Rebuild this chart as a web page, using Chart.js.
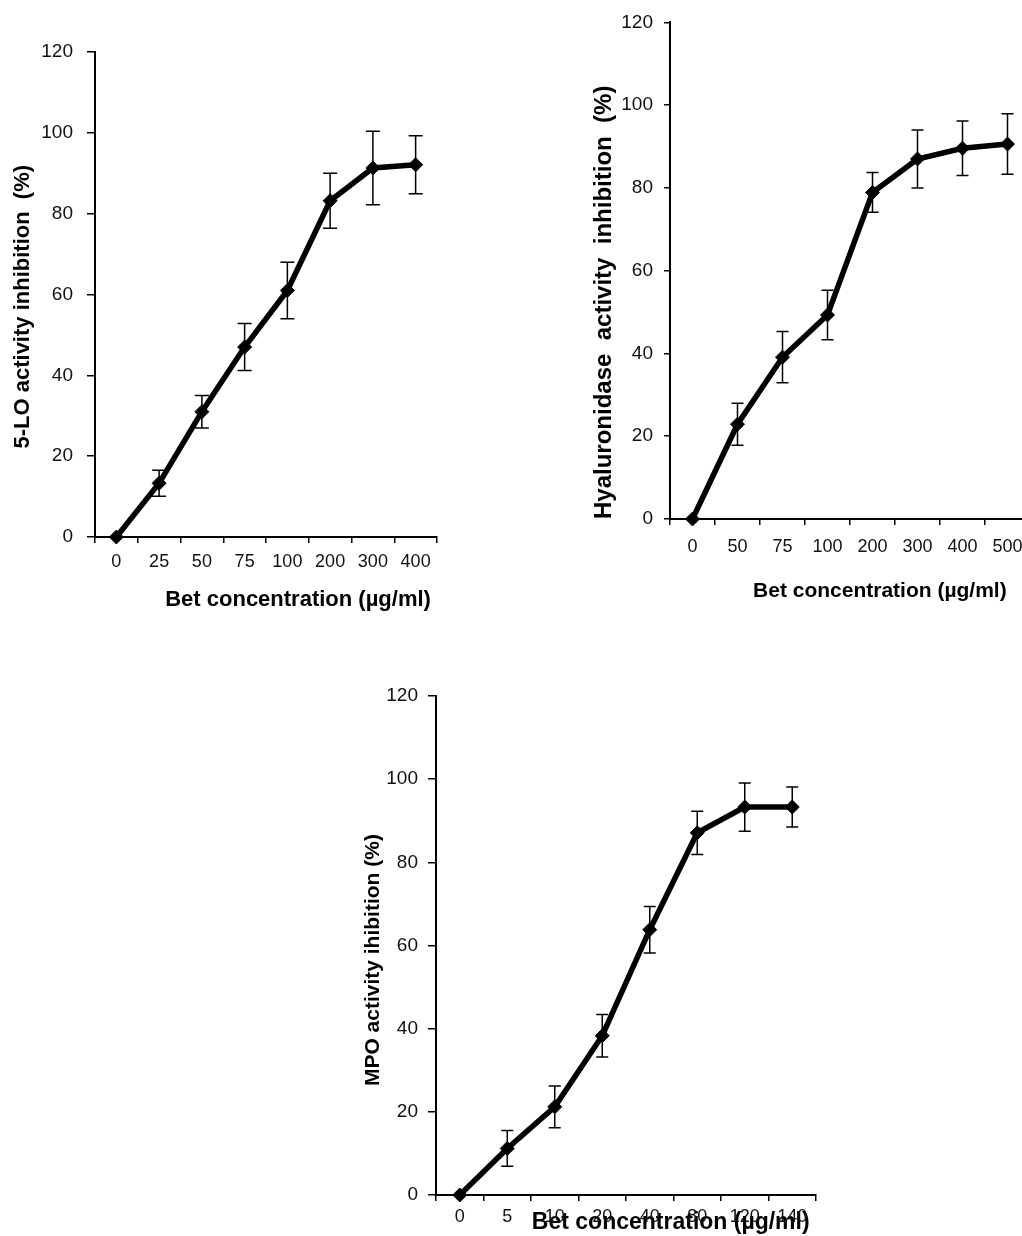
<!DOCTYPE html>
<html>
<head>
<meta charset="utf-8">
<script src="https://cdn.jsdelivr.net/npm/chart.js@4.4.1/dist/chart.umd.min.js"></script>
<style>
  html, body { margin: 0; padding: 0; background: #fff; overflow: hidden; width: 1022px; height: 1236px; }
  canvas { position: absolute; top: 0; left: 0; }
</style>
</head>
<body>
<canvas id="c1" width="1022" height="1236"></canvas>
<canvas id="c2" width="1040" height="1236"></canvas>
<canvas id="c3" width="1022" height="1236"></canvas>
<script>
// ---------- data ----------
const yTicks = [0, 20, 40, 60, 80, 100, 120];

const loLabels = ['0', '25', '50', '75', '100', '200', '300', '400'];
const loValues = [0, 13.3, 31, 47, 61, 83.2, 91.3, 92.1];
const loErrors = [0, 3.2, 4, 5.8, 7, 6.8, 9.1, 7.2];

const hyaLabels = ['0', '50', '75', '100', '200', '300', '400', '500'];
const hyaValues = [0, 22.9, 39.1, 49.3, 78.9, 87, 89.6, 90.6];
const hyaErrors = [0, 5.1, 6.2, 6, 4.8, 7, 6.6, 7.3];

const mpoLabels = ['0', '5', '10', '20', '40', '80', '120', '140'];
const mpoValues = [0, 11.2, 21.2, 38.3, 63.8, 87.1, 93.3, 93.3];
const mpoErrors = [0, 4.3, 5, 5.1, 5.6, 5.2, 5.8, 4.8];

// ---------- error bar plugin ----------
const errorBars = {
  id: 'errorBars',
  afterDatasetsDraw(chart, args, opts) {
    const ctx = chart.ctx;
    const yScale = chart.scales.y;
    const errs = opts.errors || [];
    const cap = opts.cap || 6;
    chart.data.datasets.forEach((ds, di) => {
      const meta = chart.getDatasetMeta(di);
      ctx.save();
      ctx.strokeStyle = '#000';
      ctx.lineWidth = 1.5;
      meta.data.forEach((pt, i) => {
        const e = errs[i];
        if (!e) return;
        const v = ds.data[i];
        const yt = yScale.getPixelForValue(v + e);
        const yb = yScale.getPixelForValue(v - e);
        ctx.beginPath();
        ctx.moveTo(pt.x, yt); ctx.lineTo(pt.x, yb);
        ctx.moveTo(pt.x - cap, yt); ctx.lineTo(pt.x + cap, yt);
        ctx.moveTo(pt.x - cap, yb); ctx.lineTo(pt.x + cap, yb);
        ctx.stroke();
      });
      ctx.restore();
    });
  }
};

const FONT = "'Liberation Sans', Arial, Helvetica, sans-serif";

function makeChart(id, labels, values, errors, L) {
  const ctx = document.getElementById(id);
  return new Chart(ctx, {
    type: 'line',
    data: {
      labels: labels,
      datasets: [{
        data: values,
        borderColor: '#000',
        borderWidth: 5.5,
        backgroundColor: '#000',
        pointStyle: 'rectRot',
        pointRadius: 7,
        pointBackgroundColor: '#000',
        pointBorderColor: '#000',
        pointBorderWidth: 1,
        tension: 0,
        fill: false,
        clip: false
      }]
    },
    options: {
      responsive: false,
      animation: false,
      devicePixelRatio: 1,
      layout: { padding: { left: L.padLeft, top: L.padTop, right: L.padRight, bottom: L.padBottom } },
      plugins: {
        legend: { display: false },
        tooltip: { enabled: false },
        errorBars: { errors: errors, cap: L.cap }
      },
      scales: {
        x: {
          type: 'category',
          offset: true,
          afterFit: s => { s.height = L.xHeight; },
          grid: { offset: true, drawOnChartArea: false, drawTicks: true, tickLength: 6, color: '#000', lineWidth: 1.5 },
          border: { display: true, color: '#000', width: 2 },
          ticks: { color: '#111', padding: L.xTickPad, font: { family: FONT, size: 18 }, maxRotation: 0, autoSkip: false },
          title: {
            display: true, text: L.xTitle, align: 'end', color: '#000',
            font: { family: FONT, size: L.xTitleSize, weight: 'bold' },
            padding: { top: 0, bottom: 0 }
          }
        },
        y: {
          min: 0, max: 120,
          afterFit: s => { s.width = L.yWidth; },
          afterBuildTicks: s => { s.ticks = yTicks.map(v => ({ value: v })); },
          grid: { drawOnChartArea: false, drawTicks: true, tickLength: L.yTickLen, color: '#000', lineWidth: 1.5 },
          border: { display: true, color: '#000', width: 2 },
          ticks: { color: '#111', padding: L.yTickPad, font: { family: FONT, size: 19 } },
          title: {
            display: true, text: L.yTitle, align: L.yAlign, color: '#000',
            font: { family: FONT, size: L.yTitleSize, weight: 'bold' },
            padding: { top: L.yTitlePad, bottom: 0 }
          }
        }
      }
    },
    plugins: [errorBars]
  });
}

// chart 1: 5-LO  (plot area 95..437 x 52..537)
makeChart('c1', loLabels, loValues, loErrors, {
  padLeft: 0, padTop: 52, padRight: 1022 - 437, padBottom: 1236 - 613,
  yWidth: 95, xHeight: 76, xTickPad: 8, yTickLen: 8, yTickPad: 14,
  xTitle: 'Bet concentration (µg/ml) ', xTitleSize: 22,
  yTitle: '5-LO activity inhibition  (%)    ', yTitleSize: 22, yAlign: 'center', yTitlePad: 10,
  cap: 7
});

// chart 2: Hyaluronidase (plot area 670..1030 x 19..519)
makeChart('c2', hyaLabels, hyaValues, hyaErrors, {
  padLeft: 580, padTop: 19, padRight: 1040 - 1030, padBottom: 1236 - 604,
  yWidth: 90, xHeight: 85, xTickPad: 11, yTickLen: 6, yTickPad: 11,
  xTitle: 'Bet concentration (µg/ml)    ', xTitleSize: 21,
  yTitle: 'Hyaluronidase  activity  inhibition  (%)', yTitleSize: 24, yAlign: 'start', yTitlePad: 10,
  cap: 6
});

// chart 3: MPO (plot area 436..816 x 696..1195)
makeChart('c3', mpoLabels, mpoValues, mpoErrors, {
  padLeft: 350, padTop: 696, padRight: 1022 - 816, padBottom: 0,
  yWidth: 86, xHeight: 41, xTickPad: 5, yTickLen: 8, yTickPad: 10,
  xTitle: 'Bet concentration (µg/ml) ', xTitleSize: 23,
  yTitle: 'MPO activity ihibition (%)     ', yTitleSize: 21, yAlign: 'center', yTitlePad: 11,
  cap: 6
});
</script>
</body>
</html>
